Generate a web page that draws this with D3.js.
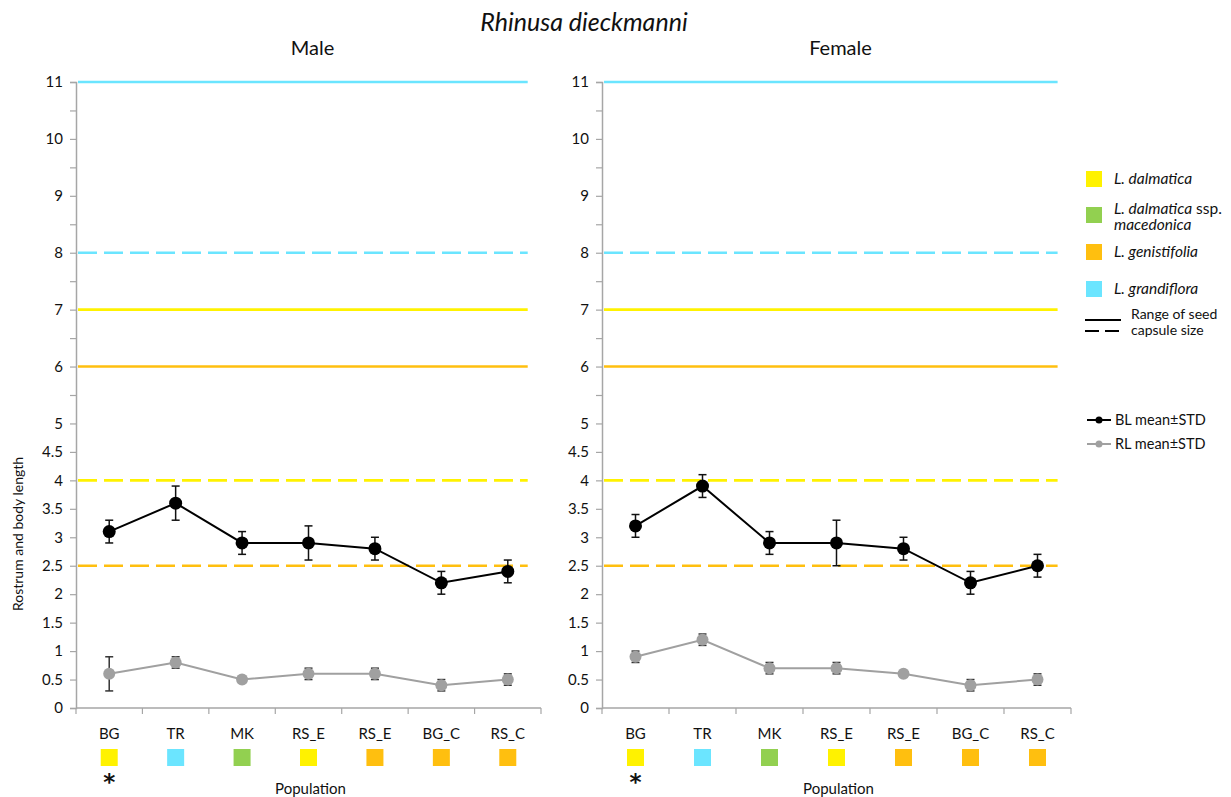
<!DOCTYPE html>
<html>
<head>
<meta charset="utf-8">
<script src="https://cdn.jsdelivr.net/npm/d3@7"></script>
<style>
  body { margin: 0; background: #fff; }
  svg text { font-family: Lato, "Open Sans", sans-serif; fill: #111; }
</style>
</head>
<body>
<div id="chart"></div>
<script>
// populations on the x axis (RS_E appears twice in the source)
const populations = ["BG", "TR", "MK", "RS_E", "RS_E", "BG_C", "RS_C"];
const hostOfPop = ["dal", "gra", "mac", "dal", "gen", "gen", "gen"];

// male values
const maleBL = [3.1, 3.6, 2.9, 2.9, 2.8, 2.2, 2.4];
const maleBLsd = [0.2, 0.3, 0.2, 0.3, 0.2, 0.2, 0.2];
const maleRL = [0.6, 0.8, 0.5, 0.6, 0.6, 0.4, 0.5];
const maleRLsd = [0.3, 0.1, 0.03, 0.1, 0.1, 0.1, 0.1];

// female values
const femaleBL = [3.2, 3.9, 2.9, 2.9, 2.8, 2.2, 2.5];
const femaleBLsd = [0.2, 0.2, 0.2, 0.4, 0.2, 0.2, 0.2];
const femaleRL = [0.9, 1.2, 0.7, 0.7, 0.6, 0.4, 0.5];
const femaleRLsd = [0.1, 0.1, 0.1, 0.1, 0.03, 0.1, 0.1];

// seed capsule size ranges per host plant
const hostKeys = ["dal", "mac", "gen", "gra"];
const hostNames = ["L. dalmatica", "L. dalmatica ssp. macedonica", "L. genistifolia", "L. grandiflora"];
const hostColors = { dal: "#FFF200", mac: "#92D050", gen: "#FFBF0F", gra: "#6BE5FF" };
const rangeHost = ["gra", "gra", "dal", "gen", "dal", "gen"];
const rangeValue = [11, 8, 7, 6, 4, 2.5];
const rangeDashed = [false, true, false, false, true, true];

const yTicks = d3.range(0, 11.01, 0.5);

const W = 1231, H = 797;
const svg = d3.select("#chart").append("svg")
  .attr("width", W).attr("height", H);

const y = d3.scaleLinear().domain([0, 11]).range([708, 82]);

// title
svg.append("text")
  .attr("x", 584).attr("y", 31)
  .attr("text-anchor", "middle")
  .style("font-size", "25px").style("font-style", "italic")
  .text("Rhinusa dieckmanni");

// y axis label
svg.append("text")
  .attr("transform", "translate(23,534) rotate(-90)")
  .attr("text-anchor", "middle")
  .style("font-size", "14px")
  .text("Rostrum and body length");

const panels = [
  { title: "Male", x0: 76, x1: 541, bl: maleBL, blsd: maleBLsd, rl: maleRL, rlsd: maleRLsd },
  { title: "Female", x0: 602, x1: 1071, bl: femaleBL, blsd: femaleBLsd, rl: femaleRL, rlsd: femaleRLsd }
];

panels.forEach(p => {
  const g = svg.append("g");
  const x = d3.scaleBand().domain(d3.range(populations.length)).range([p.x0, p.x1]);
  const cx = i => x(i) + x.bandwidth() / 2;

  // panel title
  g.append("text")
    .attr("x", (p.x0 + p.x1) / 2 + 4).attr("y", 55)
    .attr("text-anchor", "middle")
    .style("font-size", "20px")
    .text(p.title);

  // reference lines (seed capsule size)
  const lineEnd = x.range()[0] + x.step() * 6.8;
  g.selectAll(".ref")
    .data(rangeValue)
    .enter().append("line")
    .attr("x1", p.x0 + 2).attr("x2", lineEnd)
    .attr("y1", d => y(d)).attr("y2", d => y(d))
    .attr("stroke", (d, i) => hostColors[rangeHost[i]])
    .attr("stroke-width", 2.6)
    .attr("stroke-dasharray", (d, i) => rangeDashed[i] ? "19,7" : null);

  // y axis
  const yAxis = g.append("g")
    .attr("transform", `translate(${p.x0},0)`)
    .call(d3.axisLeft(y).tickValues(yTicks).tickSize(6).tickPadding(7)
      .tickFormat(d => (d <= 5 || d % 1 === 0) ? d3.format("~g")(d) : ""));
  yAxis.select(".domain").attr("stroke", "#A6A6A6").attr("stroke-width", 1.5);
  yAxis.selectAll(".tick line").attr("stroke", "#A6A6A6").attr("stroke-width", 1.2);
  yAxis.selectAll(".tick text").style("font-size", "15px").attr("fill", "#111")
    .style("font-family", "Lato, sans-serif");

  // x axis with ticks at band edges
  const xAxis = g.append("g").attr("transform", `translate(0,${y(0)})`);
  xAxis.append("line")
    .attr("x1", p.x0).attr("x2", p.x1)
    .attr("stroke", "#A6A6A6").attr("stroke-width", 1.5);
  xAxis.selectAll(".xt")
    .data(d3.range(populations.length + 1))
    .enter().append("line")
    .attr("x1", i => p.x0 + i * x.step()).attr("x2", i => p.x0 + i * x.step())
    .attr("y1", 0).attr("y2", 6)
    .attr("stroke", "#A6A6A6").attr("stroke-width", 1.2);

  // category labels, host squares, asterisk
  g.selectAll(".cat")
    .data(populations)
    .enter().append("text")
    .attr("x", (d, i) => cx(i)).attr("y", 739)
    .attr("text-anchor", "middle")
    .style("font-size", "15px")
    .text(d => d);
  g.selectAll(".hostsq")
    .data(hostOfPop)
    .enter().append("rect")
    .attr("x", (d, i) => cx(i) - 8.5).attr("y", 749)
    .attr("width", 17).attr("height", 17)
    .attr("fill", d => hostColors[d]);
  g.append("text")
    .attr("x", cx(0)).attr("y", 790)
    .attr("text-anchor", "middle")
    .style("font-size", "23px").style("font-weight", "bold")
    .style("font-family", "DejaVu Sans, sans-serif")
    .text("*");
  g.append("text")
    .attr("x", (p.x0 + p.x1) / 2 + 2).attr("y", 794)
    .attr("text-anchor", "middle")
    .style("font-size", "15px")
    .text("Population");

  // series: error bars, line, points
  const series = [
    { v: p.bl, sd: p.blsd, color: "#000", bar: "#111", r: 6.5 },
    { v: p.rl, sd: p.rlsd, color: "#A0A0A0", bar: "#333", r: 6 }
  ];
  series.forEach(s => {
    const eb = g.append("g");
    s.v.forEach((v, i) => {
      const lo = y(v - s.sd[i]), hi = y(v + s.sd[i]);
      eb.append("line").attr("x1", cx(i)).attr("x2", cx(i)).attr("y1", lo).attr("y2", hi)
        .attr("stroke", s.bar).attr("stroke-width", 1.5);
      [lo, hi].forEach(yy => eb.append("line")
        .attr("x1", cx(i) - 4).attr("x2", cx(i) + 4).attr("y1", yy).attr("y2", yy)
        .attr("stroke", s.bar).attr("stroke-width", 1.5));
    });
    g.append("path")
      .datum(s.v)
      .attr("fill", "none")
      .attr("stroke", s.color)
      .attr("stroke-width", 2)
      .attr("d", d3.line().x((d, i) => cx(i)).y(d => y(d)));
    g.selectAll(null)
      .data(s.v)
      .enter().append("circle")
      .attr("cx", (d, i) => cx(i)).attr("cy", d => y(d))
      .attr("r", s.r)
      .attr("fill", s.color);
  });
});

// legend: host plants
const leg = svg.append("g");
const legY = [179, 215, 252, 289];
hostKeys.forEach((k, i) => {
  leg.append("rect")
    .attr("x", 1086).attr("y", legY[i] - 8)
    .attr("width", 16).attr("height", 16)
    .attr("fill", hostColors[k]);
});
const dalText = leg.append("text").attr("x", 1114).attr("y", legY[0] + 5).style("font-size", "15.5px");
dalText.append("tspan").style("font-style", "italic").text("L. dalmatica");
const macText = leg.append("text").attr("x", 1114).attr("y", legY[1] - 1).style("font-size", "15.5px");
macText.append("tspan").style("font-style", "italic").text("L. dalmatica");
macText.append("tspan").text(" ssp.");
macText.append("tspan").attr("x", 1114).attr("dy", 16).style("font-style", "italic").text("macedonica");
leg.append("text").attr("x", 1114).attr("y", legY[2] + 5).style("font-size", "15.5px")
  .style("font-style", "italic").text(hostNames[2]);
leg.append("text").attr("x", 1114).attr("y", legY[3] + 5).style("font-size", "15.5px")
  .style("font-style", "italic").text(hostNames[3]);

// legend: range line styles
leg.append("line").attr("x1", 1085).attr("x2", 1121).attr("y1", 320).attr("y2", 320)
  .attr("stroke", "#000").attr("stroke-width", 2);
leg.append("line").attr("x1", 1085).attr("x2", 1121).attr("y1", 331).attr("y2", 331)
  .attr("stroke", "#000").attr("stroke-width", 2).attr("stroke-dasharray", "14,6");
leg.append("text").attr("x", 1131).attr("y", 319).style("font-size", "14px").text("Range of seed");
leg.append("text").attr("x", 1131).attr("y", 335).style("font-size", "14px").text("capsule size");

// legend: series
const serLeg = [
  { label: "BL mean±STD", color: "#000", y: 420 },
  { label: "RL mean±STD", color: "#A0A0A0", y: 444 }
];
serLeg.forEach(s => {
  leg.append("line").attr("x1", 1087).attr("x2", 1111).attr("y1", s.y).attr("y2", s.y)
    .attr("stroke", s.color).attr("stroke-width", 2);
  leg.append("circle").attr("cx", 1099).attr("cy", s.y).attr("r", 3.5).attr("fill", s.color);
  leg.append("text").attr("x", 1115).attr("y", s.y + 5).style("font-size", "14.5px").text(s.label);
});
</script>
</body>
</html>
